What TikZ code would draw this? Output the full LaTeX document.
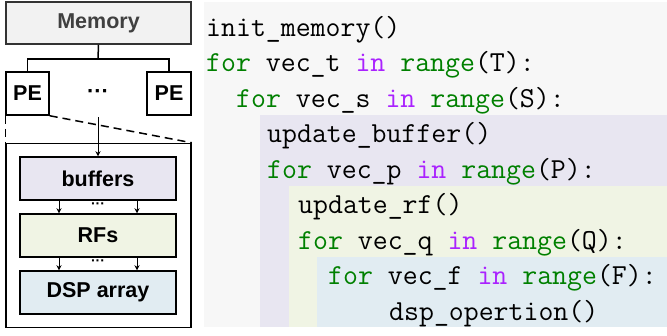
\documentclass[tikz,border=0pt]{standalone}
\usepackage{fontspec}
\newfontfamily\hwsans{Liberation Sans}
\usetikzlibrary{arrows.meta}
\definecolor{codebg}{HTML}{F7F7F7}
\definecolor{lavbg}{HTML}{E8E6F1}
\definecolor{grnbg}{HTML}{F0F4E4}
\definecolor{blubg}{HTML}{E1ECF2}
\definecolor{membg}{HTML}{F2F2F2}
\definecolor{kwgreen}{HTML}{008000}
\definecolor{kwpurple}{HTML}{AA22FF}
\newcommand{\kw}[1]{\textcolor{kwgreen}{#1}}
\newcommand{\kin}[1]{\textcolor{kwpurple}{#1}}
\tikzset{
  hwbox/.style={draw=black, line width=1.5pt, inner sep=0pt, font=\hwsans\bfseries\fontsize{21.5}{24}\selectfont},
  codeline/.style={anchor=base west, inner sep=0pt, font=\ttfamily\fontsize{29}{35}\selectfont},
  wire/.style={line width=1.5pt},
  arr/.style={line width=1pt, -{Stealth[length=5pt,width=5pt]}},
  dots/.style={font=\hwsans\bfseries\fontsize{14}{16}\selectfont, inner sep=0pt},
  bigdots/.style={font=\hwsans\bfseries\fontsize{22}{24}\selectfont, inner sep=0pt},
}
\begin{document}
\begin{tikzpicture}[x=1pt,y=-1pt]
\useasboundingbox (0,0) rectangle (667,335);
% code backgrounds
\fill[codebg] (204,2) rectangle (667,327);
\fill[lavbg] (260,115) rectangle (667,327);
\fill[grnbg] (289,186) rectangle (667,327);
\fill[blubg] (317,257) rectangle (667,327);
% code
\node[codeline] (l1) at (206,36) {init\_memory()};
\node[codeline] (l2) at (206,71.5) {\kw{for} vec\_t \kin{in} \kw{range}(T):};
\node[codeline] (l3) at (236,107) {\kw{for} vec\_s \kin{in} \kw{range}(S):};
\node[codeline] (l4) at (267,142.5) {update\_buffer()};
\node[codeline] (l5) at (267,178) {\kw{for} vec\_p \kin{in} \kw{range}(P):};
\node[codeline] (l6) at (298,213.5) {update\_rf()};
\node[codeline] (l7) at (298,249) {\kw{for} vec\_q \kin{in} \kw{range}(Q):};
\node[codeline] (l8) at (328,284.5) {\kw{for} vec\_f \kin{in} \kw{range}(F):};
\node[codeline] (l9) at (389,320) {dsp\_opertion()};
% hardware
\node[hwbox, draw=black!80, fill=membg, text=black!75, minimum width=185pt, minimum height=42pt] (mem) at (98.5,23) {Memory};
\node[hwbox, fill=white, minimum width=43pt, minimum height=43pt] (pe1) at (27.5,93.5) {PE};
\node[hwbox, fill=white, minimum width=44pt, minimum height=43pt] (pe2) at (169,93.5) {PE};
\node[bigdots] (pdots) at (98,94) {\char"00B7\char"00B7\char"00B7};
\coordinate (bus) at (98,59);
\draw[wire] (mem.south) -- (bus);
\draw[wire] (pe1.north) |- (bus) -| (pe2.north);
\node[draw=black, line width=1.5pt, minimum width=185pt, minimum height=184pt, inner sep=0pt] (outer) at (98.5,235.5) {};
\draw[wire, dash pattern=on 8pt off 5pt] (pe1.south east) -- (outer.north east);
\draw[wire, dash pattern=on 8pt off 5pt] (pe1.south west) -- (outer.north west);
\node[hwbox, fill=lavbg, minimum width=156pt, minimum height=43pt] (buf) at (98,178.5) {buffers};
\node[hwbox, fill=grnbg, minimum width=156pt, minimum height=43pt] (rf) at (98,235.5) {RFs};
\node[hwbox, fill=blubg, minimum width=156pt, minimum height=43pt] (dsp) at (98,292.5) {DSP array};
\coordinate (pestart) at (98,117);
\draw[arr] (pestart) -- (buf.north);
\draw[arr] ([xshift=-39pt]buf.south) -- ([xshift=-39pt]rf.north);
\draw[arr] ([xshift=39pt]buf.south) -- ([xshift=39pt]rf.north);
\draw[arr] ([xshift=-39pt]rf.south) -- ([xshift=-39pt]dsp.north);
\draw[arr] ([xshift=39pt]rf.south) -- ([xshift=39pt]dsp.north);
\node[dots] (d1) at (98,206) {\char"00B7\char"00B7\char"00B7};
\node[dots] (d2) at (98,263) {\char"00B7\char"00B7\char"00B7};
\end{tikzpicture}
\end{document}
